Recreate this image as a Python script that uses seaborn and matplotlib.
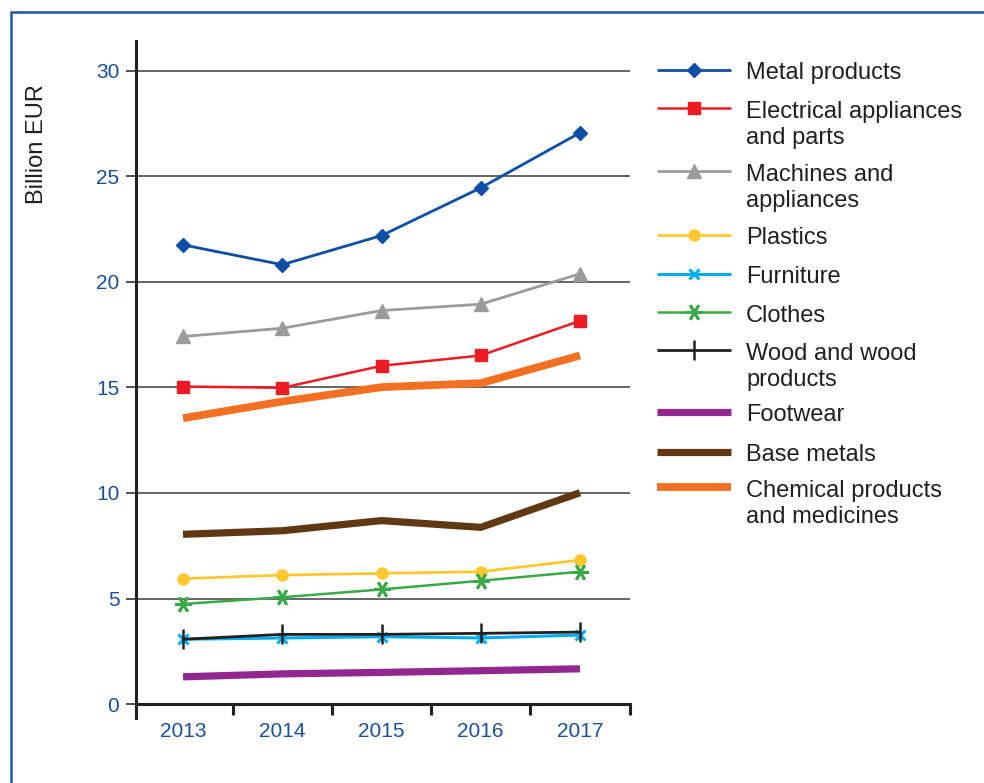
import matplotlib
matplotlib.use("Agg")
import matplotlib.pyplot as plt
import seaborn as sns
import pandas as pd
from matplotlib.lines import Line2D
from matplotlib.patches import Rectangle

# ---- data (billion EUR) ----
years = [2013, 2014, 2015, 2016, 2017]
metal_products = [21.75, 20.81, 22.19, 24.45, 27.06]
electrical_appliances = [15.04, 14.98, 16.02, 16.51, 18.15]
machines = [17.41, 17.80, 18.64, 18.94, 20.38]
plastics = [5.94, 6.11, 6.19, 6.27, 6.82]
furniture = [3.07, 3.13, 3.19, 3.13, 3.27]
clothes = [4.74, 5.06, 5.43, 5.84, 6.27]
wood = [3.07, 3.30, 3.30, 3.35, 3.41]
footwear = [1.29, 1.43, 1.50, 1.58, 1.67]
base_metals = [8.04, 8.21, 8.69, 8.37, 10.01]
chemical = [13.54, 14.33, 15.01, 15.20, 16.51]

series_labels = [
    "Metal products",
    "Electrical appliances\nand parts",
    "Machines and\nappliances",
    "Plastics",
    "Furniture",
    "Clothes",
    "Wood and wood\nproducts",
    "Footwear",
    "Base metals",
    "Chemical products\nand medicines",
]
series_values = [metal_products, electrical_appliances, machines, plastics,
                 furniture, clothes, wood, footwear, base_metals, chemical]
y_ticks = [0, 5, 10, 15, 20, 25, 30]

# ---- styling per series: colour, marker, marker size, edge width, line width, zorder ----
ASTERISK = (6, 2, 90)
styles = [
    ("#0d4ea6", "D", 7.5, 1.0, 2.0, 6),
    ("#ed1c24", "s", 8.0, 1.0, 1.8, 6),
    ("#9a9b9d", "^", 9.5, 1.0, 2.0, 5),
    ("#fdc82f", "o", 8.0, 1.0, 2.0, 5),
    ("#00aeef", "x", 7.0, 2.2, 2.2, 6),
    ("#3aaa48", ASTERISK, 12.0, 2.0, 1.8, 5),
    ("#231f20", "|", 14.0, 1.8, 2.0, 7),
    ("#92278f", None, 0, 0, 5.2, 4),
    ("#603813", None, 0, 0, 5.2, 4),
    ("#f36f21", None, 0, 0, 5.6, 4),
]

BLUE = "#1a4f9c"
TEXT = "#231f20"
W, H = 984, 783

sns.set_theme(style="white")
plt.rcParams["font.family"] = ["Liberation Sans", "DejaVu Sans"]

fig = plt.figure(figsize=(W / 100, H / 100), dpi=100)
fig.patch.set_facecolor("white")

# axes box in pixels: left 136, right 630, top 40.7, bottom 718
ax = fig.add_axes([136 / W, (H - 718) / H, (630 - 136) / W, (718 - 40.7) / H])
ax.set_facecolor("white")

for vals, (col, mk, ms, mew, lw, z) in zip(series_values, styles):
    kw = dict(color=col, linewidth=lw, solid_capstyle="butt", zorder=z)
    if mk is not None:
        kw.update(marker=mk, markersize=ms, markeredgewidth=mew,
                  markeredgecolor=col, markerfacecolor=col)
    sns.lineplot(x=years, y=vals, ax=ax, errorbar=None, legend=False, **kw)

x_lo, x_hi = 2012.526, 2017.504
ax.set_xlim(x_lo, x_hi)
ax.set_ylim(-0.66, 31.42)

# y axis
ax.set_yticks(y_ticks)
ax.set_yticklabels([str(t) for t in y_ticks])
ax.tick_params(axis="y", which="major", left=True, length=7, width=1.2,
               color="#333333", pad=5, labelcolor=BLUE, labelsize=15)
ax.grid(axis="y", color="#3a3a3a", linewidth=1.1)
ax.grid(axis="x", visible=False)
ax.set_axisbelow(True)

# x axis: labels at the years, tick marks at category boundaries
ax.spines["bottom"].set_position(("data", 0))
ax.set_xticks(years)
ax.set_xticklabels([str(y) for y in years])
bounds = [x_lo] + [y + 0.5 for y in years[:-1]] + [x_hi]
ax.set_xticks(bounds, minor=True)
ax.tick_params(axis="x", which="major", bottom=True, length=0, pad=13,
               labelcolor=BLUE, labelsize=15)
ax.tick_params(axis="x", which="minor", bottom=True, length=8, width=2.2,
               color=TEXT, direction="out")

for side in ("top", "right"):
    ax.spines[side].set_visible(False)
for side in ("left", "bottom"):
    ax.spines[side].set_color(TEXT)
    ax.spines[side].set_linewidth(2.2)
    ax.spines[side].set_zorder(8)

ax.set_xlabel("")
ax.set_ylabel("Billion EUR", fontsize=17, color=TEXT)
ax.yaxis.set_label_coords((37 - 136) / 494, (718 - 144) / (718 - 40.7))
ax.yaxis.label.set_va("center")

# ---- legend, drawn in figure pixel space ----
def fx(px):
    return px / W


def fy(py):
    return 1 - py / H


LINE_STEP = 26.6  # px between baselines of a wrapped label
legend_rows = [69.5, 108.3, 171.0, 234.5, 274.0, 312.3, 350.0, 411.7, 451.7, 486.7]
for label, row, (col, mk, ms, mew, lw, z) in zip(series_labels, legend_rows, styles):
    fig.add_artist(Line2D([fx(657), fx(731)], [fy(row), fy(row)], color=col,
                          linewidth=lw, solid_capstyle="butt",
                          transform=fig.transFigure))
    if mk is not None:
        fig.add_artist(Line2D([fx(694)], [fy(row)], marker=mk, markersize=ms,
                              markeredgewidth=mew, markeredgecolor=col,
                              markerfacecolor=col, linestyle="none",
                              transform=fig.transFigure))
    n_lines = label.count("\n") + 1
    baseline = row + 9.5 + (n_lines - 1) * LINE_STEP
    fig.text(fx(746), fy(baseline), label, fontsize=17, color=TEXT,
             ha="left", va="baseline", linespacing=1.23)

# outer blue frame (open towards the right and bottom edges)
fig.add_artist(Rectangle((fx(10.5), -0.05), 1.2, fy(11.5) + 0.05, fill=False,
                         edgecolor="#1f56a8", linewidth=1.8,
                         transform=fig.transFigure))

fig.savefig("out.png", dpi=100, facecolor="white")
